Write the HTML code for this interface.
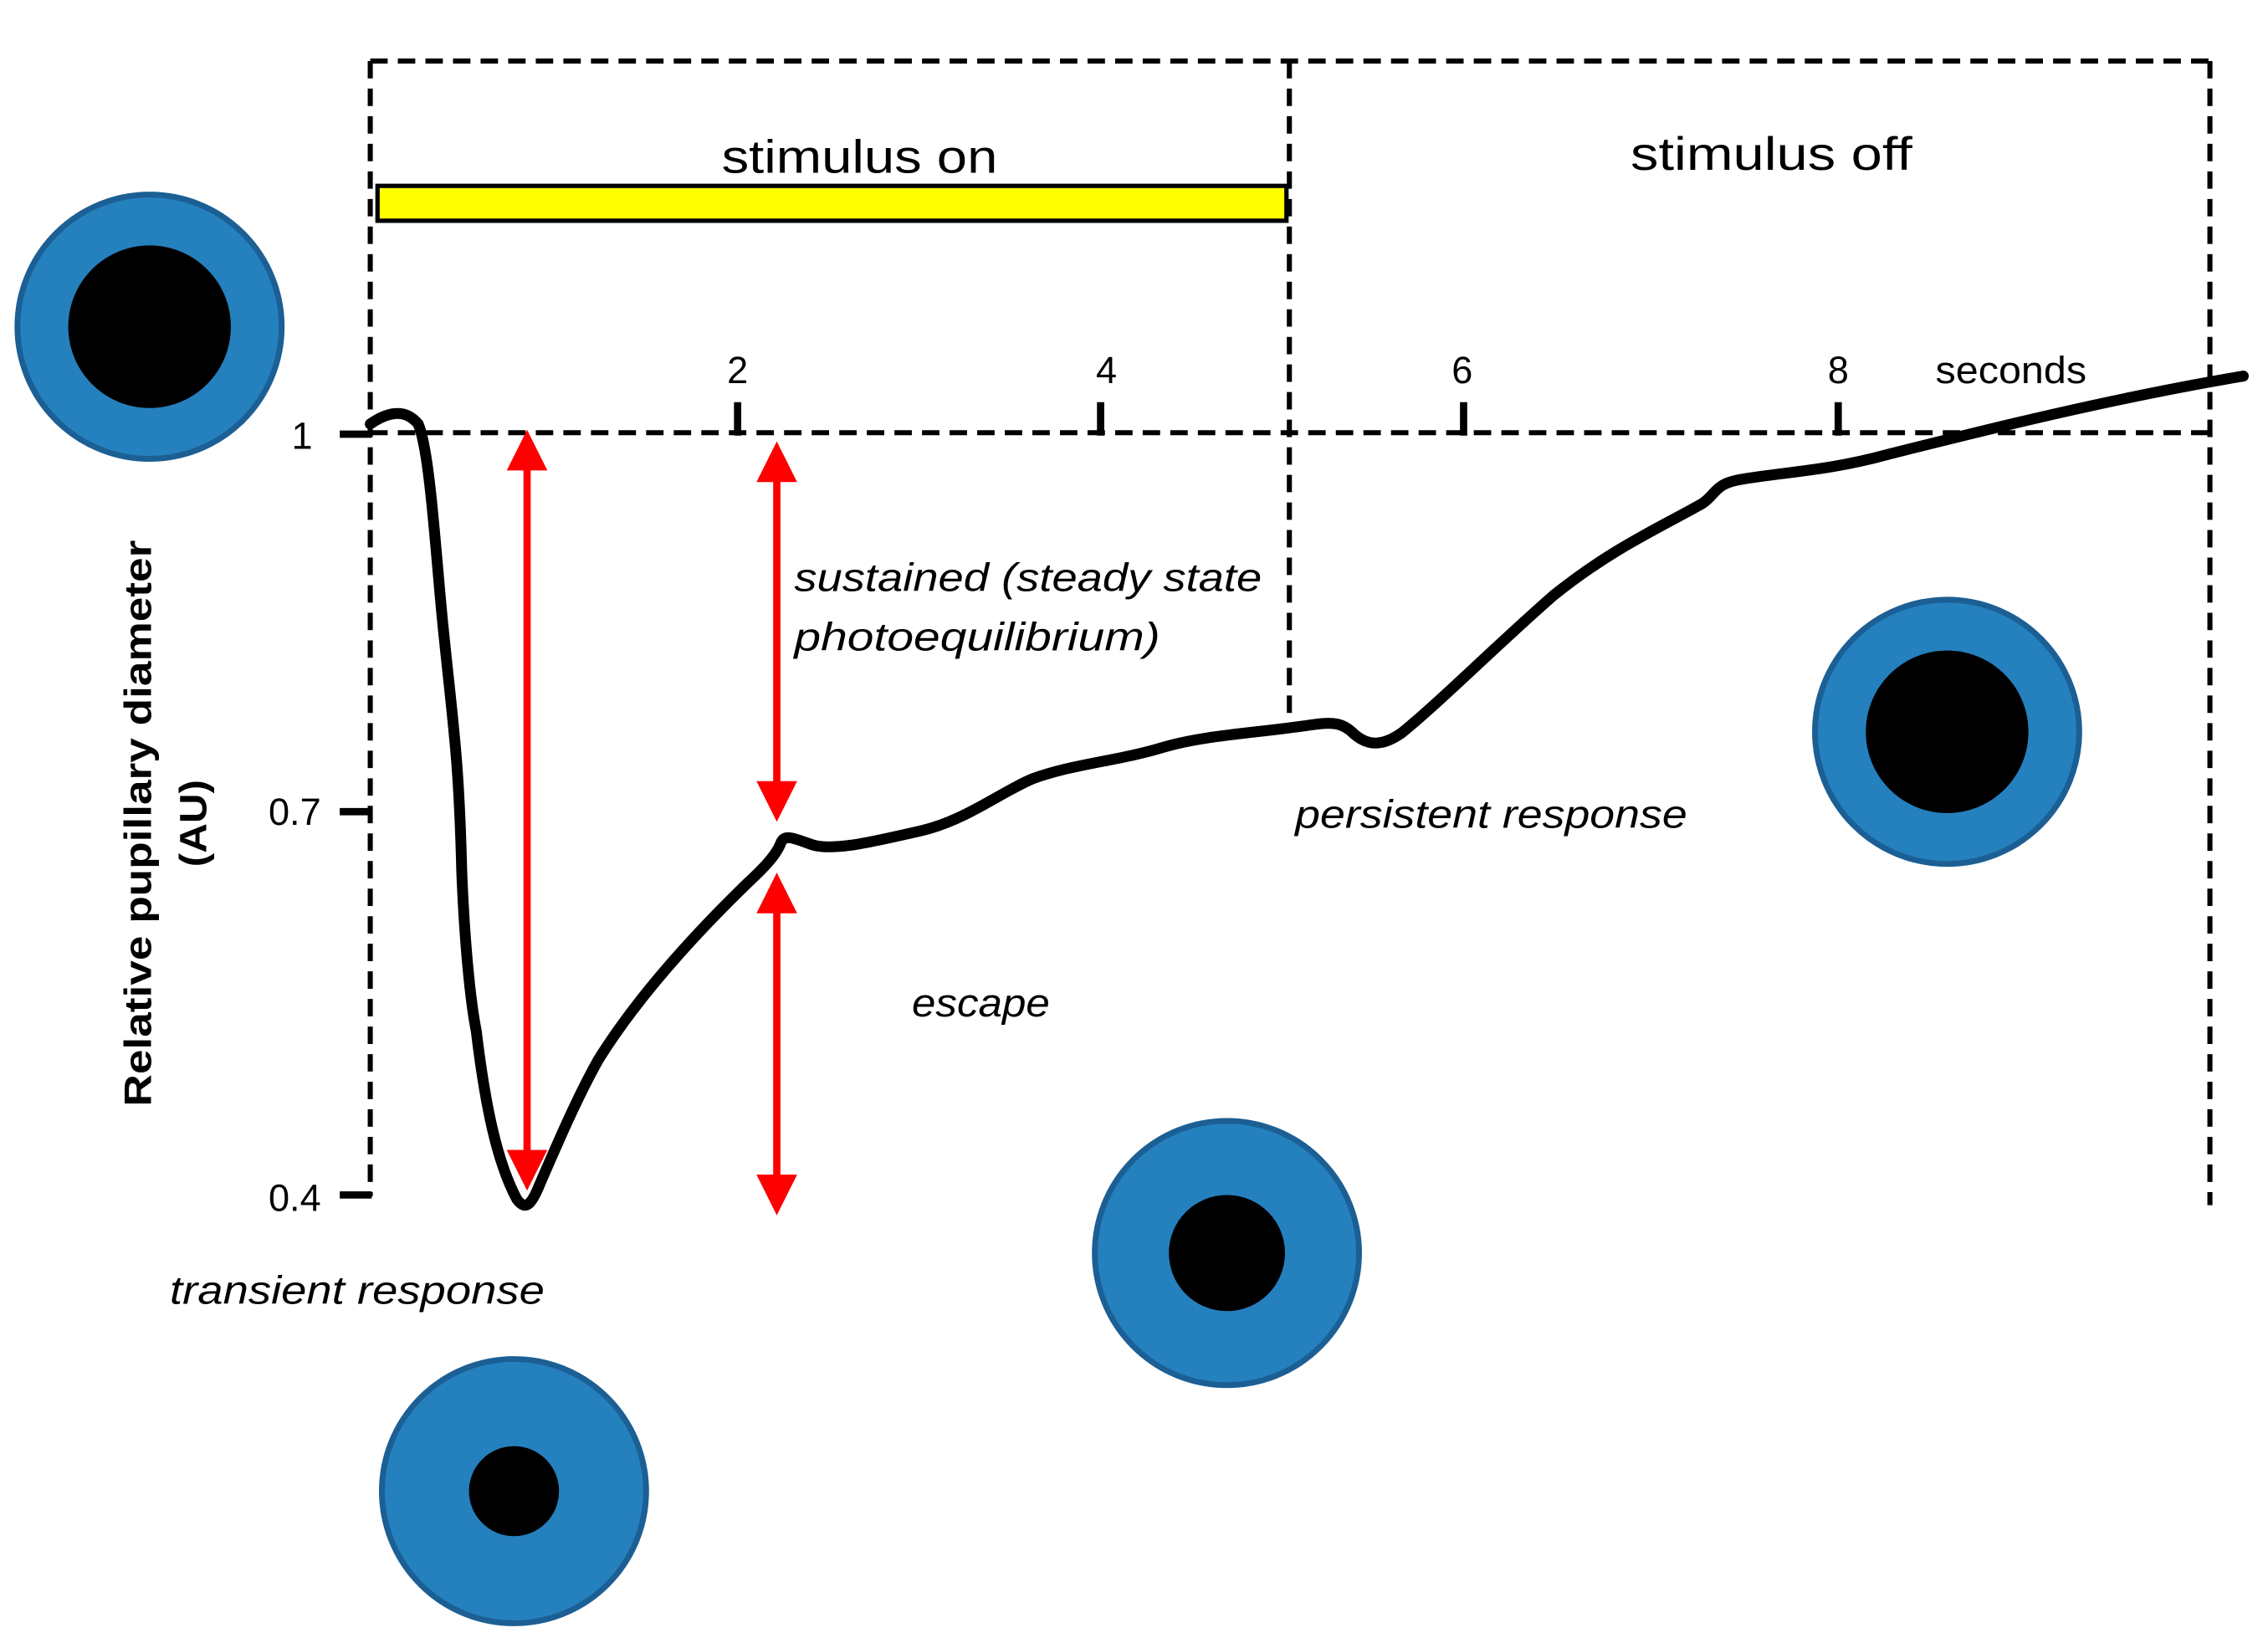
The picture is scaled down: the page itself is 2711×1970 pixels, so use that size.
<!DOCTYPE html>
<html><head><meta charset="utf-8"><style>html,body{margin:0;padding:0;background:#fff}svg{display:block}</style></head>
<body>
<svg width="2711" height="1970" viewBox="0 0 1562 1135" xmlns="http://www.w3.org/2000/svg" font-family="Liberation Sans, sans-serif">
<rect width="1562" height="1135" fill="#fff"/>
<g stroke="#000" stroke-width="3.5" stroke-dasharray="12,7" fill="none">
<line x1="255" y1="42" x2="1522" y2="42"/>
<line x1="255" y1="42" x2="255" y2="824"/>
<line x1="1522" y1="42" x2="1522" y2="830"/>
<line x1="888" y1="42" x2="888" y2="500"/>
<line x1="255" y1="298" x2="1522" y2="298"/>
</g>
<rect x="260" y="128" width="626" height="24" fill="#ffff00" stroke="#000" stroke-width="3"/>
<g stroke="#000" stroke-width="5">
<line x1="508" y1="277" x2="508" y2="300"/><line x1="758" y1="277" x2="758" y2="300"/>
<line x1="1008" y1="277" x2="1008" y2="300"/><line x1="1266" y1="277" x2="1266" y2="300"/>
<line x1="234" y1="299" x2="256" y2="299"/><line x1="234" y1="559" x2="256" y2="559"/><line x1="234" y1="823" x2="256" y2="823"/>
</g>
<g font-size="32" text-anchor="middle">
<text x="592" y="119" textLength="190" lengthAdjust="spacingAndGlyphs">stimulus on</text>
<text x="1220" y="117" textLength="194" lengthAdjust="spacingAndGlyphs">stimulus off</text>
</g>
<g font-size="26" text-anchor="middle">
<text x="508" y="264">2</text><text x="762" y="264">4</text><text x="1007" y="264">6</text><text x="1266" y="264">8</text>
<text x="1385" y="264" textLength="104" lengthAdjust="spacingAndGlyphs">seconds</text>
<text x="208" y="309">1</text><text x="203" y="568">0.7</text><text x="203" y="834">0.4</text>
</g>
<g font-size="26" font-weight="bold" text-anchor="middle">
<text transform="translate(104,567) rotate(-90)" textLength="390" lengthAdjust="spacingAndGlyphs">Relative pupillary diameter</text>
<text transform="translate(142,567) rotate(-90)" textLength="60" lengthAdjust="spacingAndGlyphs">(AU)</text>
</g>
<g font-size="27" font-style="italic">
<text x="547" y="407" textLength="322" lengthAdjust="spacingAndGlyphs">sustained (steady state</text>
<text x="547" y="448" textLength="252" lengthAdjust="spacingAndGlyphs">photoequilibrium)</text>
<text x="892" y="570" textLength="270" lengthAdjust="spacingAndGlyphs">persistent response</text>
<text x="628" y="700" textLength="95" lengthAdjust="spacingAndGlyphs">escape</text>
<text x="117" y="898" textLength="258" lengthAdjust="spacingAndGlyphs">transient response</text>
</g>
<g fill="#2580be" stroke="#1b5f94" stroke-width="4">
<circle cx="103" cy="225" r="91"/><circle cx="1341" cy="504" r="91"/>
<circle cx="845" cy="863" r="91"/><circle cx="354" cy="1027" r="91"/>
</g>
<g fill="#000">
<circle cx="103" cy="225" r="56"/><circle cx="1341" cy="504" r="56"/>
<circle cx="845" cy="863" r="40"/><circle cx="354" cy="1027" r="31"/>
</g>
<path d="M255,292 C265,285 278,280 288,292 C296,310 300,380 305,430 C312,500 316,520 318,600 C320,650 324,690 328,710 C334,760 342,800 356,826 C362,834 366,830 372,815 C385,785 398,755 412,730 C440,685 480,642 515,608 C528,596 535,588 538,580 C541,574 548,578 560,582 C575,586 600,580 635,572 C665,565 690,545 712,536 C740,526 770,524 800,515 C830,506 865,505 905,499 C918,497 925,498 932,505 C942,514 952,514 965,505 C990,485 1030,445 1070,410 C1110,378 1140,365 1172,347 C1182,341 1180,333 1200,330 C1230,325 1260,324 1300,313 C1360,298 1450,275 1545,259" fill="none" stroke="#000" stroke-width="7.5" stroke-linecap="round" stroke-linejoin="round"/>
<g stroke="#ff0000" stroke-width="5">
<line x1="363" y1="315" x2="363" y2="800"/>
<line x1="535" y1="325" x2="535" y2="545"/>
<line x1="535" y1="622" x2="535" y2="815"/>
</g>
<g fill="#ff0000">
<polygon points="363,296 349,324 377,324"/><polygon points="363,820 349,792 377,792"/>
<polygon points="535,304 521,332 549,332"/><polygon points="535,566 521,538 549,538"/>
<polygon points="535,601 521,629 549,629"/><polygon points="535,837 521,809 549,809"/>
</g>
</svg>
</body></html>
